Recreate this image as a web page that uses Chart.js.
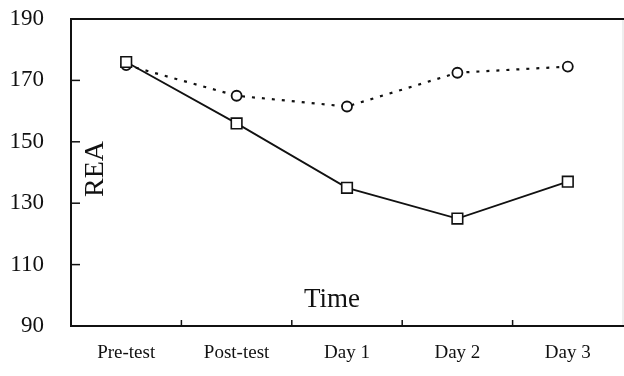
<!DOCTYPE html>
<html>
<head>
<meta charset="utf-8">
<script src="https://cdn.jsdelivr.net/npm/chart.js@4.4.1/dist/chart.umd.min.js"></script>
<style>
  html, body { margin: 0; padding: 0; background: #fff; }
  #wrap { width: 624px; height: 376px; position: relative; }
</style>
</head>
<body>
<div id="wrap"><canvas id="reaChart"></canvas></div>
<script>
// values
const timeLabels = ['Pre-test', 'Post-test', 'Day 1', 'Day 2', 'Day 3'];
const solidSeries = [176, 156, 135, 125, 137];      // squares, solid line
const dottedSeries = [175, 165, 161.5, 172.5, 174.5]; // circles, dotted line
const yTicks = [90, 110, 130, 150, 170, 190];

const serif = '"Liberation Serif", "DejaVu Serif", serif';

// box around the plot, short inward ticks and the two in-plot labels
const framePlugin = {
  id: 'frame',
  afterDraw(chart) {
    const { ctx, chartArea: a, scales } = chart;
    ctx.save();
    // right edge is barely visible in the scan
    ctx.strokeStyle = '#ddd';
    ctx.lineWidth = 1;
    ctx.beginPath();
    ctx.moveTo(a.right, a.top);
    ctx.lineTo(a.right, a.bottom);
    ctx.stroke();

    ctx.strokeStyle = '#111';
    ctx.lineWidth = 2;
    ctx.beginPath();
    ctx.moveTo(a.right + 1, a.top);
    ctx.lineTo(a.left, a.top);
    ctx.lineTo(a.left, a.bottom);
    ctx.lineTo(a.right + 1, a.bottom);
    ctx.stroke();

    // y ticks pointing inward
    ctx.lineWidth = 1.5;
    yTicks.forEach(v => {
      if (v === 90 || v === 190) return;
      const y = scales.y.getPixelForValue(v);
      ctx.beginPath();
      ctx.moveTo(a.left, y);
      ctx.lineTo(a.left + 9, y);
      ctx.stroke();
    });
    // x ticks between categories, pointing up
    for (let i = 1; i < timeLabels.length; i++) {
      const x = (scales.x.getPixelForTick(i - 1) + scales.x.getPixelForTick(i)) / 2;
      ctx.beginPath();
      ctx.moveTo(x, a.bottom);
      ctx.lineTo(x, a.bottom - 6);
      ctx.stroke();
    }

    ctx.fillStyle = '#111';
    ctx.font = '27px ' + serif;
    ctx.textAlign = 'center';
    ctx.textBaseline = 'alphabetic';
    ctx.fillText('Time', a.left + 261, a.bottom - 19);

    ctx.font = '28px ' + serif;
    ctx.textBaseline = 'middle';
    ctx.translate(a.left + 25, a.top + 150);
    ctx.rotate(-Math.PI / 2);
    ctx.fillText('REA', 0, 0);
    ctx.restore();
  }
};

new Chart(document.getElementById('reaChart').getContext('2d'), {
  type: 'line',
  data: {
    labels: timeLabels,
    datasets: [
      {
        data: solidSeries,
        borderColor: '#111',
        borderWidth: 1.8,
        pointStyle: 'rect',
        pointRadius: 7.5,
        pointBorderWidth: 1.6,
        pointBorderColor: '#111',
        pointBackgroundColor: '#fff',
        tension: 0
      },
      {
        data: dottedSeries,
        borderColor: '#111',
        borderWidth: 2.2,
        borderDash: [3, 7],
        pointStyle: 'circle',
        pointRadius: 5,
        pointBorderWidth: 1.8,
        pointBorderColor: '#111',
        pointBackgroundColor: '#fff',
        tension: 0
      }
    ]
  },
  options: {
    responsive: true,
    maintainAspectRatio: false,
    animation: false,
    layout: { autoPadding: false, padding: { top: 19, right: 1, left: 0, bottom: 0 } },
    plugins: {
      legend: { display: false },
      tooltip: { enabled: false }
    },
    scales: {
      x: {
        offset: true,
        grid: { display: false, drawTicks: false },
        border: { display: false },
        ticks: {
          color: '#111',
          padding: 16,
          font: { family: serif, size: 19 }
        },
        afterFit(scale) {
          scale.height = 50;
          scale.paddingLeft = 0;
          scale.paddingRight = 0;
        }
      },
      y: {
        min: 90,
        max: 190,
        grid: { display: false, drawTicks: false },
        border: { display: false },
        afterBuildTicks(scale) { scale.ticks = yTicks.map(v => ({ value: v })); },
        ticks: {
          color: '#111',
          padding: 27,
          font: { family: serif, size: 23 }
        },
        afterFit(scale) {
          scale.width = 71;
          scale.paddingTop = 0;
          scale.paddingBottom = 0;
        }
      }
    }
  },
  plugins: [framePlugin]
});
</script>
</body>
</html>
